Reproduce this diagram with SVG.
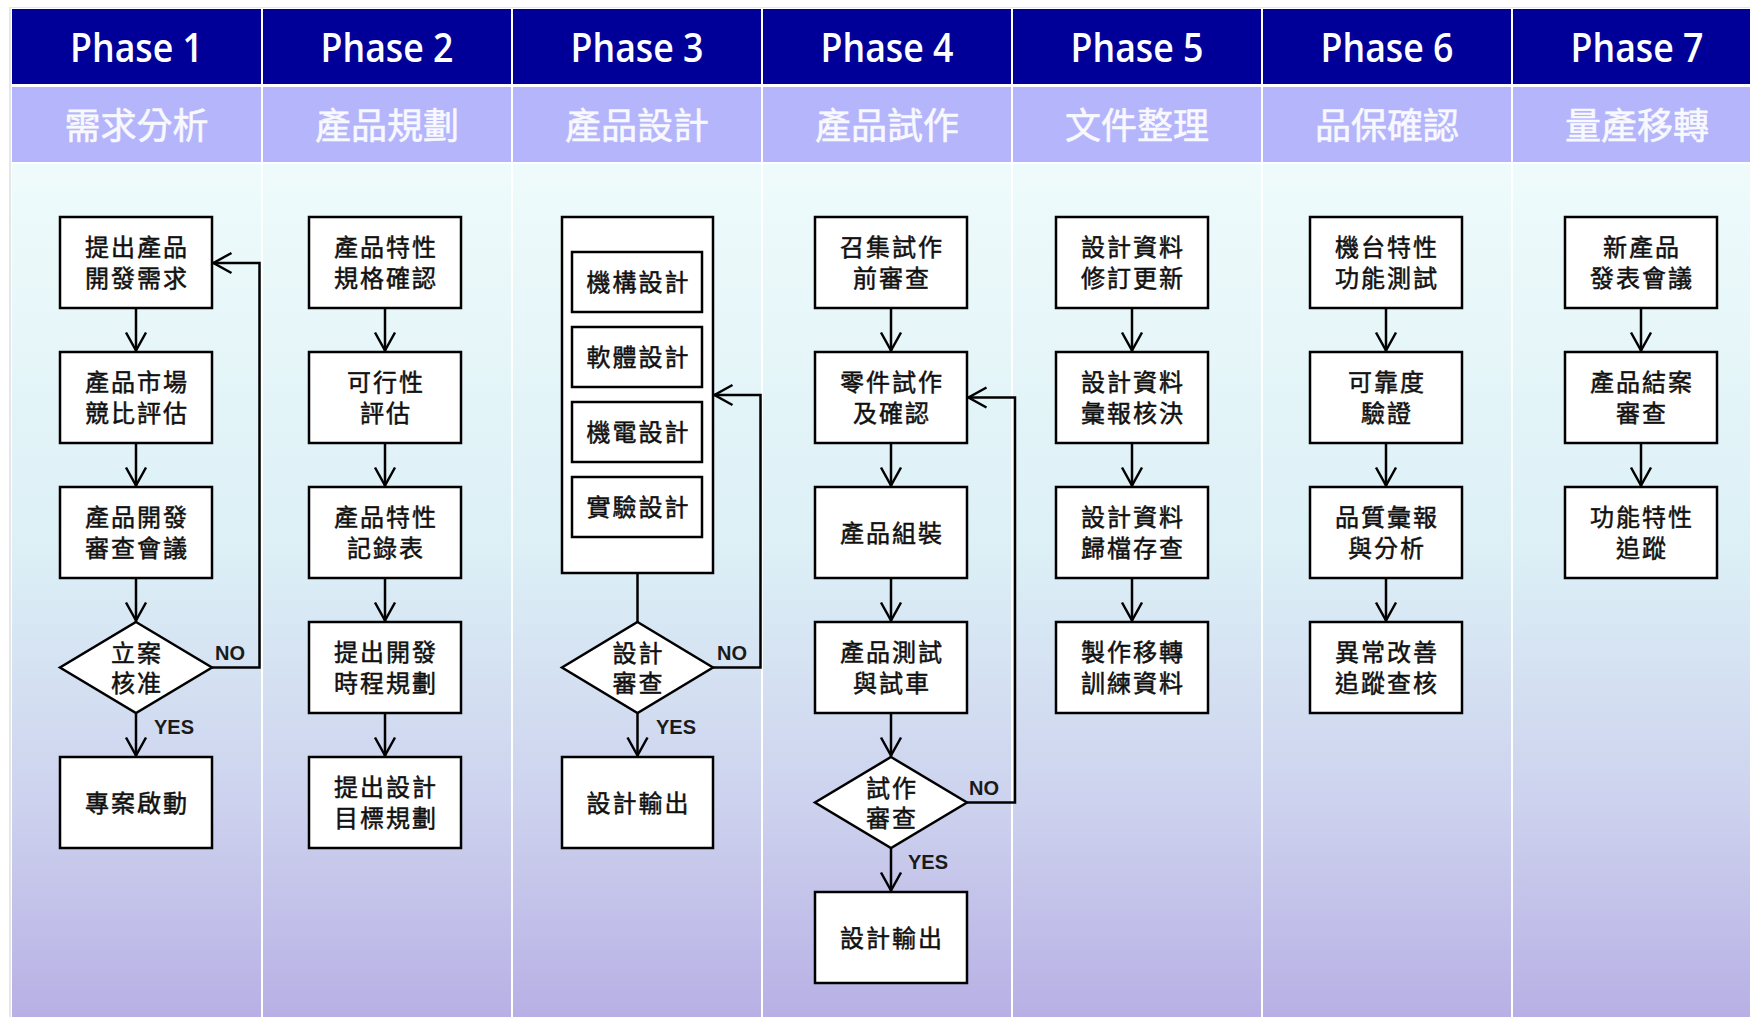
<svg xmlns="http://www.w3.org/2000/svg" width="1750" height="1017" viewBox="0 0 1750 1017">
<defs>
<linearGradient id="bodyg" gradientUnits="userSpaceOnUse" x1="0" y1="163" x2="0" y2="1017">
<stop offset="0" stop-color="#effbfb"/>
<stop offset="0.45" stop-color="#dcf0f6"/>
<stop offset="0.75" stop-color="#cdd2ee"/>
<stop offset="1" stop-color="#b8b0e5"/>
</linearGradient>
<marker id="ah" markerUnits="userSpaceOnUse" viewBox="-22 -14 26 28" refX="1.5" refY="0" markerWidth="26" markerHeight="28" orient="auto" overflow="visible">
<path d="M-18,-10 L0,0 L-18,10" fill="none" stroke="#000" stroke-width="2.5"/>
</marker>
<style>
.hd{fill:#000099}
.sub{fill:#b5b5fb}
.body{fill:url(#bodyg)}
.ph{font-family:"Open Sans","Noto Sans",sans-serif;font-size:40px;font-weight:600;fill:#ffffff;text-anchor:middle}
.st{font-family:"Noto Sans CJK TC","Noto Sans CJK SC",sans-serif;font-size:36px;fill:#f8f8ff;stroke:#f8f8ff;stroke-width:0.6px;text-anchor:middle}
.box{fill:#ffffff;stroke:#000;stroke-width:2.5}
.t{font-family:"Noto Sans CJK TC","Noto Sans CJK SC",sans-serif;font-size:24px;fill:#111;stroke:#111;stroke-width:0.5px;text-anchor:middle;letter-spacing:2px}
.lbl{font-family:"Liberation Sans",Arial,sans-serif;font-size:20px;font-weight:bold;fill:#1a1a1a}
.ln{fill:none;stroke:#000;stroke-width:2.5}
.ar{fill:none;stroke:#000;stroke-width:2.5;marker-end:url(#ah)}
</style>
</defs>
<rect x="0" y="0" width="1750" height="1017" fill="#ffffff"/>
<rect x="9" y="7" width="1741" height="1010" fill="#e6e6e6"/>
<rect x="11" y="8" width="1739" height="1009" fill="#ffffff"/>

<g id="columns">
<rect class="hd" x="12" y="9" width="249" height="75"/>
<rect class="hd" x="263" y="9" width="248" height="75"/>
<rect class="hd" x="513" y="9" width="248" height="75"/>
<rect class="hd" x="763" y="9" width="248" height="75"/>
<rect class="hd" x="1013" y="9" width="248" height="75"/>
<rect class="hd" x="1263" y="9" width="248" height="75"/>
<rect class="hd" x="1513" y="9" width="237" height="75"/>
<rect class="sub" x="12" y="87" width="249" height="75"/>
<rect class="sub" x="263" y="87" width="248" height="75"/>
<rect class="sub" x="513" y="87" width="248" height="75"/>
<rect class="sub" x="763" y="87" width="248" height="75"/>
<rect class="sub" x="1013" y="87" width="248" height="75"/>
<rect class="sub" x="1263" y="87" width="248" height="75"/>
<rect class="sub" x="1513" y="87" width="237" height="75"/>
<rect class="body" x="12" y="164" width="249" height="853"/>
<rect class="body" x="263" y="164" width="248" height="853"/>
<rect class="body" x="513" y="164" width="248" height="853"/>
<rect class="body" x="763" y="164" width="248" height="853"/>
<rect class="body" x="1013" y="164" width="248" height="853"/>
<rect class="body" x="1263" y="164" width="248" height="853"/>
<rect class="body" x="1513" y="164" width="237" height="853"/>
<text class="ph" x="136.5" y="62" textLength="133" lengthAdjust="spacingAndGlyphs">Phase 1</text>
<text class="ph" x="387" y="62" textLength="133" lengthAdjust="spacingAndGlyphs">Phase 2</text>
<text class="ph" x="637" y="62" textLength="133" lengthAdjust="spacingAndGlyphs">Phase 3</text>
<text class="ph" x="887" y="62" textLength="133" lengthAdjust="spacingAndGlyphs">Phase 4</text>
<text class="ph" x="1137" y="62" textLength="133" lengthAdjust="spacingAndGlyphs">Phase 5</text>
<text class="ph" x="1387" y="62" textLength="133" lengthAdjust="spacingAndGlyphs">Phase 6</text>
<text class="ph" x="1637" y="62" textLength="133" lengthAdjust="spacingAndGlyphs">Phase 7</text>
<text class="st" x="136.5" y="139">需求分析</text>
<text class="st" x="387" y="139">產品規劃</text>
<text class="st" x="637" y="139">產品設計</text>
<text class="st" x="887" y="139">產品試作</text>
<text class="st" x="1137" y="139">文件整理</text>
<text class="st" x="1387" y="139">品保確認</text>
<text class="st" x="1637" y="139">量產移轉</text>
</g>

<g id="connectors">
<path class="ar" d="M136,308 V352"/>
<path class="ar" d="M136,443 V487"/>
<path class="ar" d="M136,578 V622"/>
<path class="ar" d="M136,713 V757"/>
<path class="ar" d="M212,667.5 H259.5 V263 H212"/>
<path class="ar" d="M385,308 V352"/>
<path class="ar" d="M385,443 V487"/>
<path class="ar" d="M385,578 V622"/>
<path class="ar" d="M385,713 V757"/>
<path class="ln" d="M637.5,573 V622"/>
<path class="ar" d="M637.5,713 V757"/>
<path class="ar" d="M713,667.5 H760.5 V395 H713"/>
<path class="ar" d="M891,308 V352"/>
<path class="ar" d="M891,443 V487"/>
<path class="ar" d="M891,578 V622"/>
<path class="ar" d="M891,713 V757"/>
<path class="ar" d="M891,848 V892"/>
<path class="ar" d="M967,802.5 H1015 V397.5 H967"/>
<path class="ar" d="M1132,308 V352"/>
<path class="ar" d="M1132,443 V487"/>
<path class="ar" d="M1132,578 V622"/>
<path class="ar" d="M1386,308 V352"/>
<path class="ar" d="M1386,443 V487"/>
<path class="ar" d="M1386,578 V622"/>
<path class="ar" d="M1641,308 V352"/>
<path class="ar" d="M1641,443 V487"/>
<text class="lbl" x="215" y="660">NO</text>
<text class="lbl" x="154" y="734">YES</text>
<text class="lbl" x="717" y="660">NO</text>
<text class="lbl" x="656" y="734">YES</text>
<text class="lbl" x="969" y="795">NO</text>
<text class="lbl" x="908" y="869">YES</text>
</g>

<!-- Phase 1 -->
<g id="p1n1"><rect class="box" x="60" y="217" width="152" height="91"/><text class="t"><tspan x="137" y="256">提出產品</tspan><tspan x="137" y="287">開發需求</tspan></text></g>
<g id="p1n2"><rect class="box" x="60" y="352" width="152" height="91"/><text class="t"><tspan x="137" y="391">產品市場</tspan><tspan x="137" y="422">競比評估</tspan></text></g>
<g id="p1n3"><rect class="box" x="60" y="487" width="152" height="91"/><text class="t"><tspan x="137" y="526">產品開發</tspan><tspan x="137" y="557">審查會議</tspan></text></g>
<g id="p1d"><polygon class="box" points="136,622 212,667.5 136,713 60,667.5"/><text class="t"><tspan x="137" y="662">立案</tspan><tspan x="137" y="692">核准</tspan></text></g>
<g id="p1n4"><rect class="box" x="60" y="757" width="152" height="91"/><text class="t" x="137" y="811.5">專案啟動</text></g>

<!-- Phase 2 -->
<g id="p2n1"><rect class="box" x="309" y="217" width="152" height="91"/><text class="t"><tspan x="386" y="256">產品特性</tspan><tspan x="386" y="287">規格確認</tspan></text></g>
<g id="p2n2"><rect class="box" x="309" y="352" width="152" height="91"/><text class="t"><tspan x="386" y="391">可行性</tspan><tspan x="386" y="422">評估</tspan></text></g>
<g id="p2n3"><rect class="box" x="309" y="487" width="152" height="91"/><text class="t"><tspan x="386" y="526">產品特性</tspan><tspan x="386" y="557">記錄表</tspan></text></g>
<g id="p2n4"><rect class="box" x="309" y="622" width="152" height="91"/><text class="t"><tspan x="386" y="661">提出開發</tspan><tspan x="386" y="692">時程規劃</tspan></text></g>
<g id="p2n5"><rect class="box" x="309" y="757" width="152" height="91"/><text class="t"><tspan x="386" y="796">提出設計</tspan><tspan x="386" y="827">目標規劃</tspan></text></g>

<!-- Phase 3 -->
<g id="p3grp"><rect class="box" x="562" y="217" width="151" height="356"/></g>
<g id="p3n1"><rect class="box" x="572" y="252" width="130" height="60"/><text class="t" x="638.5" y="291">機構設計</text></g>
<g id="p3n2"><rect class="box" x="572" y="327" width="130" height="60"/><text class="t" x="638.5" y="366">軟體設計</text></g>
<g id="p3n3"><rect class="box" x="572" y="402" width="130" height="60"/><text class="t" x="638.5" y="441">機電設計</text></g>
<g id="p3n4"><rect class="box" x="572" y="477" width="130" height="60"/><text class="t" x="638.5" y="516">實驗設計</text></g>
<g id="p3d"><polygon class="box" points="637.5,622 713,667.5 637.5,713 562,667.5"/><text class="t"><tspan x="638.5" y="662">設計</tspan><tspan x="638.5" y="692">審查</tspan></text></g>
<g id="p3n5"><rect class="box" x="562" y="757" width="151" height="91"/><text class="t" x="638.5" y="811.5">設計輸出</text></g>

<!-- Phase 4 -->
<g id="p4n1"><rect class="box" x="815" y="217" width="152" height="91"/><text class="t"><tspan x="892" y="256">召集試作</tspan><tspan x="892" y="287">前審查</tspan></text></g>
<g id="p4n2"><rect class="box" x="815" y="352" width="152" height="91"/><text class="t"><tspan x="892" y="391">零件試作</tspan><tspan x="892" y="422">及確認</tspan></text></g>
<g id="p4n3"><rect class="box" x="815" y="487" width="152" height="91"/><text class="t" x="892" y="541.5">產品組裝</text></g>
<g id="p4n4"><rect class="box" x="815" y="622" width="152" height="91"/><text class="t"><tspan x="892" y="661">產品測試</tspan><tspan x="892" y="692">與試車</tspan></text></g>
<g id="p4d"><polygon class="box" points="891,757 967,802.5 891,848 815,802.5"/><text class="t"><tspan x="892" y="797">試作</tspan><tspan x="892" y="827">審查</tspan></text></g>
<g id="p4n5"><rect class="box" x="815" y="892" width="152" height="91"/><text class="t" x="892" y="946.5">設計輸出</text></g>

<!-- Phase 5 -->
<g id="p5n1"><rect class="box" x="1056" y="217" width="152" height="91"/><text class="t"><tspan x="1133" y="256">設計資料</tspan><tspan x="1133" y="287">修訂更新</tspan></text></g>
<g id="p5n2"><rect class="box" x="1056" y="352" width="152" height="91"/><text class="t"><tspan x="1133" y="391">設計資料</tspan><tspan x="1133" y="422">彙報核決</tspan></text></g>
<g id="p5n3"><rect class="box" x="1056" y="487" width="152" height="91"/><text class="t"><tspan x="1133" y="526">設計資料</tspan><tspan x="1133" y="557">歸檔存查</tspan></text></g>
<g id="p5n4"><rect class="box" x="1056" y="622" width="152" height="91"/><text class="t"><tspan x="1133" y="661">製作移轉</tspan><tspan x="1133" y="692">訓練資料</tspan></text></g>

<!-- Phase 6 -->
<g id="p6n1"><rect class="box" x="1310" y="217" width="152" height="91"/><text class="t"><tspan x="1387" y="256">機台特性</tspan><tspan x="1387" y="287">功能測試</tspan></text></g>
<g id="p6n2"><rect class="box" x="1310" y="352" width="152" height="91"/><text class="t"><tspan x="1387" y="391">可靠度</tspan><tspan x="1387" y="422">驗證</tspan></text></g>
<g id="p6n3"><rect class="box" x="1310" y="487" width="152" height="91"/><text class="t"><tspan x="1387" y="526">品質彙報</tspan><tspan x="1387" y="557">與分析</tspan></text></g>
<g id="p6n4"><rect class="box" x="1310" y="622" width="152" height="91"/><text class="t"><tspan x="1387" y="661">異常改善</tspan><tspan x="1387" y="692">追蹤查核</tspan></text></g>

<!-- Phase 7 -->
<g id="p7n1"><rect class="box" x="1565" y="217" width="152" height="91"/><text class="t"><tspan x="1642" y="256">新產品</tspan><tspan x="1642" y="287">發表會議</tspan></text></g>
<g id="p7n2"><rect class="box" x="1565" y="352" width="152" height="91"/><text class="t"><tspan x="1642" y="391">產品結案</tspan><tspan x="1642" y="422">審查</tspan></text></g>
<g id="p7n3"><rect class="box" x="1565" y="487" width="152" height="91"/><text class="t"><tspan x="1642" y="526">功能特性</tspan><tspan x="1642" y="557">追蹤</tspan></text></g>
</svg>
